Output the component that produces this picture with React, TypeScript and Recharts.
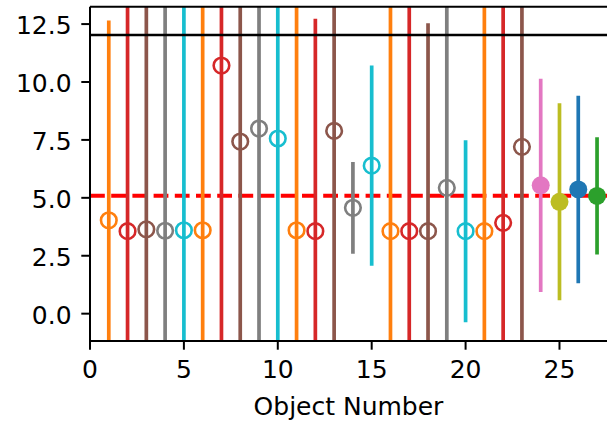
import * as R from 'recharts'
import { ErrorBar, ReferenceLine, Scatter, ScatterChart, XAxis, YAxis } from 'recharts'

const objectNumbers = [1, 2, 3, 4, 5, 6, 7, 8, 9, 10, 11, 12, 13, 14, 15, 16, 17, 18, 19, 20, 21, 22, 23, 24, 25, 26, 27]
const values = [
  4.03, 3.56, 3.64, 3.58, 3.6, 3.6, 10.71, 7.43, 7.99, 7.56, 3.6, 3.56, 7.89, 4.57, 6.39, 3.56, 3.56, 3.56, 5.43,
  3.56, 3.56, 3.92, 7.2, 5.54, 4.83, 5.36, 5.08,
]
const errors = [
  8.62, 10.5, 10.5, 10.5, 10.5, 10.5, 12.5, 10.5, 10.5, 10.5, 10.5, 9.17, 10.5, 1.98, 4.32, 10.5, 10.5, 8.98, 10.5,
  3.93, 10.5, 10.5, 10.5, 4.6, 4.25, 4.05, 2.53,
]
const colors = [
  '#ff7f0e', '#d62728', '#8c564b', '#7f7f7f', '#17becf',
  '#ff7f0e', '#d62728', '#8c564b', '#7f7f7f', '#17becf',
  '#ff7f0e', '#d62728', '#8c564b', '#7f7f7f', '#17becf',
  '#ff7f0e', '#d62728', '#8c564b', '#7f7f7f', '#17becf',
  '#ff7f0e', '#d62728', '#8c564b', '#e377c2', '#bcbd22', '#1f77b4', '#2ca02c',
]
// first 23 objects drawn as open circles, the last four filled
const filledFrom = 24

const xTicks = [0, 5, 10, 15, 20, 25]
const yTicks = [0, 2.5, 5, 7.5, 10, 12.5]
const xDomain = [0, 27.53]
const yDomain = [-1.18, 13.25]
const meanLevel = 5.09
const limitLevel = 12.03

const FONT = '"DejaVu Sans", sans-serif'
const tickStyle = { fill: '#000', fontSize: 25, fontFamily: FONT }

function Marker(props: any) {
  const { cx, cy, payload } = props
  if (payload.filled) {
    return <circle cx={cx} cy={cy} r={9} fill={payload.color} />
  }
  return <circle cx={cx} cy={cy} r={7.8} fill="none" stroke={payload.color} strokeWidth={2.6} />
}

// error bars ignore the axis clip, so clip them to the plot area ourselves
function PlotClip() {
  const hook = (R as any).usePlotArea
  const area = hook ? hook() : undefined
  if (!area) return null
  return (
    <defs>
      <clipPath id="plot-clip">
        <rect x={area.x - 20} y={area.y} width={area.width + 40} height={area.height} />
      </clipPath>
    </defs>
  )
}

export default function App() {
  const points = objectNumbers.map((n, i) => ({
    x: n,
    y: values[i],
    err: errors[i],
    color: colors[i],
    filled: n >= filledFrom,
  }))

  return (
    <div style={{ position: 'absolute', left: 0, top: 0, background: '#fff' }}>
      <style>{'.recharts-errorBars, .recharts-errorBar { clip-path: url(#plot-clip); }'}</style>
      <ScatterChart width={607} height={422} margin={{ top: 6.7, right: 0, bottom: 0, left: 0 }}>
        <PlotClip />
        <XAxis
          type="number"
          dataKey="x"
          domain={xDomain}
          ticks={xTicks}
          interval={0}
          allowDataOverflow
          height={81}
          tickSize={8.7}
          tickMargin={10.6}
          axisLine={{ stroke: '#000', strokeWidth: 2 }}
          tickLine={{ stroke: '#000', strokeWidth: 2 }}
          tick={tickStyle}
          label={{ value: 'Object Number', position: 'insideBottom', offset: 7, fill: '#000', fontSize: 25, fontFamily: FONT }}
        />
        <YAxis
          type="number"
          dataKey="y"
          domain={yDomain}
          ticks={yTicks}
          interval={0}
          allowDataOverflow
          width={90}
          tickSize={8.7}
          tickMargin={9.7}
          tickFormatter={(v: number) => v.toFixed(1)}
          axisLine={{ stroke: '#000', strokeWidth: 2 }}
          tickLine={{ stroke: '#000', strokeWidth: 2 }}
          tick={{ ...tickStyle, dy: 1.5 }}
        />
        <ReferenceLine y={meanLevel} stroke="#ff0000" strokeWidth={4} strokeDasharray="14.8 6.4" />
        {points.map((p) => (
          <Scatter key={p.x} data={[p]} shape={<Marker />} isAnimationActive={false}>
            <ErrorBar dataKey="err" direction="y" width={0} stroke={p.color} strokeWidth={3.7} isAnimationActive={false} />
          </Scatter>
        ))}
        <ReferenceLine y={limitLevel} stroke="#000" strokeWidth={2.6} />
        <ReferenceLine y={yDomain[1]} stroke="#000" strokeWidth={2} ifOverflow="visible" />
      </ScatterChart>
    </div>
  )
}
